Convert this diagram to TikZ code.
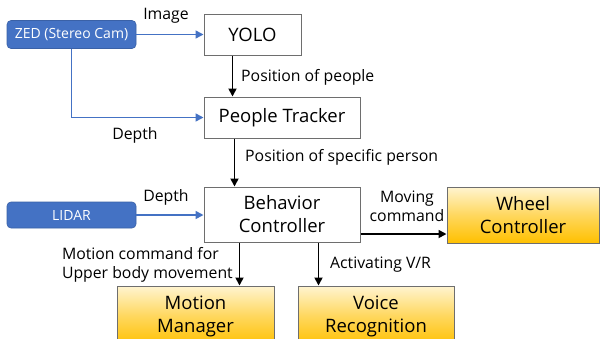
\documentclass[tikz,border=0pt]{standalone}
\usepackage{fontspec}
\setmainfont{Open Sans}
\usetikzlibrary{arrows.meta}
\definecolor{zblue}{RGB}{68,114,196}
\definecolor{lightyel}{RGB}{255,244,208}
\definecolor{darkyel}{RGB}{255,192,0}
\definecolor{bordergray}{RGB}{110,110,110}
\tikzset{
  box/.style={draw=bordergray, line width=1pt, fill=white, inner sep=0pt, align=center, font=\fontsize{18.5}{23}\selectfont},
  srcbox/.style={fill=zblue, draw=zblue!85!black, line width=0.6pt, rounded corners=4pt, inner sep=0pt, text=white, font=\fontsize{14}{16}\selectfont},
  ybox/.style={draw=bordergray, line width=1pt, top color=lightyel, bottom color=darkyel, middle color=darkyel!55!lightyel, inner sep=0pt, align=center, font=\fontsize{18.5}{23}\selectfont},
  lbl/.style={font=\fontsize{15.8}{19}\selectfont, inner sep=0pt, align=left},
  barrow/.style={line width=1.7pt, -{Triangle[length=8pt,width=8pt]}},
  bluearrow/.style={zblue, line width=1.6pt, -{Triangle[length=8pt,width=8pt]}},
}
\begin{document}
\begin{tikzpicture}[x=1pt,y=-1pt]
\useasboundingbox[fill=white] (0,0) rectangle (600,338);
% nodes
\node[srcbox, minimum width=129pt, minimum height=28pt] (zed) at (71.5,34.5) {ZED (Stereo Cam)};
\node[box, minimum width=97pt, minimum height=41pt] (yolo) at (252.5,34.5) {YOLO};
\node[box, minimum width=156pt, minimum height=41pt] (pt) at (282,117.5) {People Tracker};
\node[box, minimum width=156pt, minimum height=55pt] (bc) at (282,214.5) {Behavior\\Controller};
\node[srcbox, minimum width=129pt, minimum height=26pt] (lidar) at (71.5,215) {LIDAR};
\node[ybox, minimum width=152pt, minimum height=56pt] (wheel) at (523,215) {Wheel\\Controller};
\node[ybox, minimum width=157pt, minimum height=60pt] (mm) at (195.5,316) {Motion\\Manager};
\node[ybox, minimum width=156pt, minimum height=60pt] (vr) at (376,316) {Voice\\Recognition};
% blue connectors
\draw[bluearrow] (zed.east) -- (yolo.west);
\node[lbl] (limage) at (166,16) {Image};
\draw[bluearrow] (zed.south) |- (pt.west);
\node[lbl] (ldepth1) at (135,135) {Depth};
\draw[bluearrow] (lidar.east) -- (lidar.east -| bc.west);
\node[lbl] (ldepth2) at (166,197) {Depth};
% black connectors
\draw[barrow] ([xshift=29pt]yolo.south west) -- ([xshift=29pt]yolo.south west |- pt.north);
\node[lbl, anchor=west] (lpos1) at (241,77) {Position of people};
\draw[barrow] ([xshift=31pt]pt.south west) -- ([xshift=31pt]pt.south west |- bc.north);
\node[lbl, anchor=west] (lpos2) at (245,157) {Position of specific person};
\draw[barrow] ([yshift=-19.5pt]bc.east) -- ([yshift=-19.5pt]bc.east -| wheel.west);
\node[lbl, align=center] (lmove) at (407,206) {Moving\\command};
\draw[barrow] ([xshift=36pt]bc.south west) -- ([xshift=36pt]bc.south west |- mm.north);
\node[lbl, anchor=east] (lmotion) at (233,264.5) {Motion command for\\Upper body movement};
\draw[barrow] ([xshift=115pt]bc.south west) -- ([xshift=115pt]bc.south west |- vr.north);
\node[lbl, anchor=west] (lact) at (330,265) {Activating V/R};
\end{tikzpicture}
\end{document}
